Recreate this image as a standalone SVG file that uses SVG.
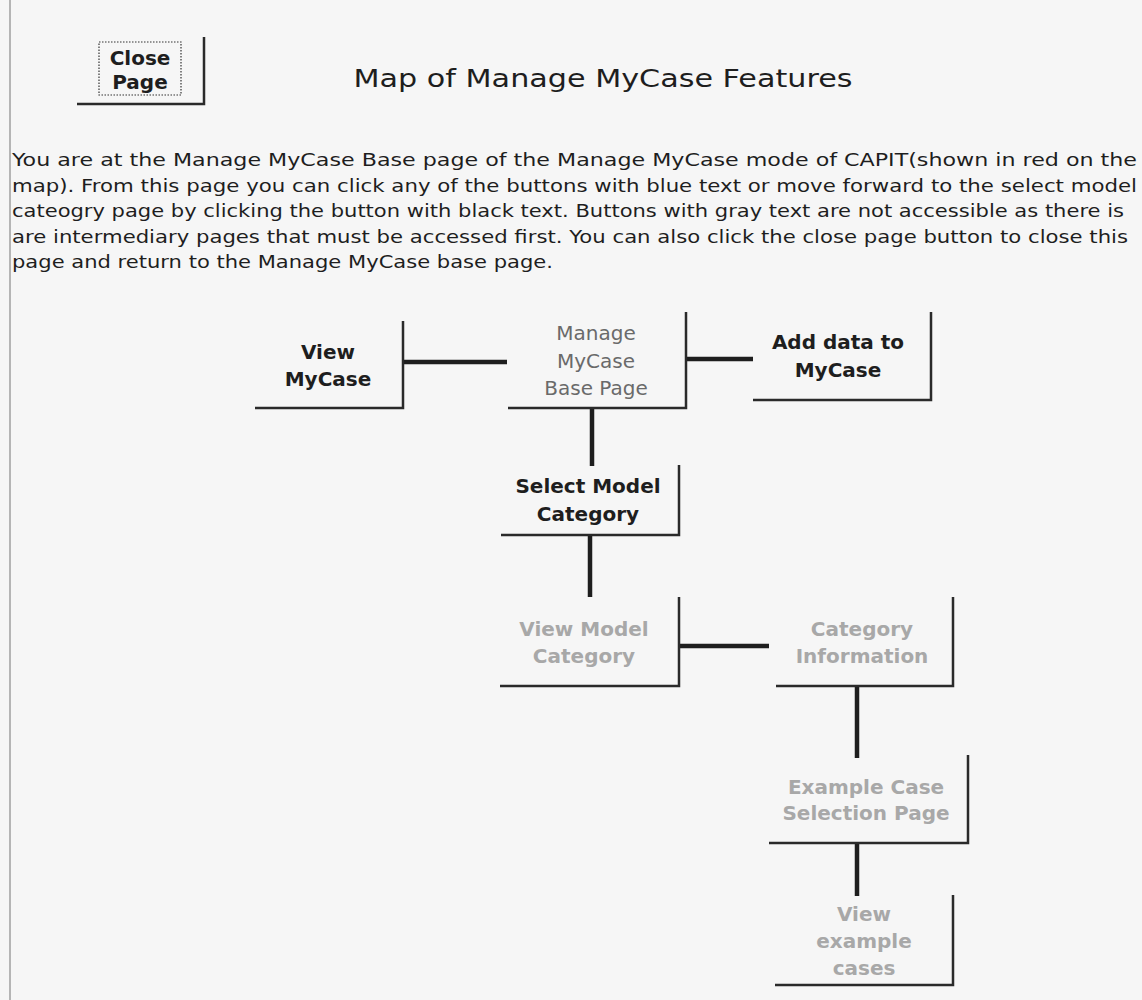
<svg xmlns="http://www.w3.org/2000/svg" width="1142" height="1000" viewBox="0 0 1142 1000">
<style>
.bg{fill:#f6f6f6}
.edge{fill:none;stroke:#2a2a2a;stroke-width:2.5}
.conn line{stroke:#1e1e1e;stroke-width:4.5;stroke-linecap:butt}
.t{font-family:"DejaVu Sans","Liberation Sans",sans-serif;text-anchor:middle;font-size:20px}
.b{font-weight:bold}
.black{fill:#1e1e1e}
.cur{fill:#6a6a6a}
.gray{fill:#a8a8a8}
.para{font-family:"DejaVu Sans","Liberation Sans",sans-serif;font-size:17px;fill:#1e1e1e}
</style>
<rect class="bg" x="0" y="0" width="1142" height="1000"/>
<line x1="10" y1="0" x2="10" y2="1000" stroke="#8a8a8a" stroke-width="1.2"/>

<g id="close-page">
  <rect x="99" y="42" width="82" height="53" fill="none" stroke="#333" stroke-width="1.2" stroke-dasharray="1.5,1.5"/>
  <polyline class="edge" points="77,104 204,104 204,37"/>
  <text class="t b black" x="140" y="65" font-size="19">Close</text>
  <text class="t b black" x="140" y="89" font-size="19">Page</text>
</g>

<text id="title" x="603" y="87" font-family="'DejaVu Sans','Liberation Sans',sans-serif" font-size="25" fill="#1e1e1e" text-anchor="middle" textLength="499" lengthAdjust="spacingAndGlyphs">Map of Manage MyCase Features</text>

<g id="description">
  <text class="para" x="12" y="166" textLength="1125" lengthAdjust="spacingAndGlyphs">You are at the Manage MyCase Base  page of the Manage MyCase mode of CAPIT(shown in red on the</text>
  <text class="para" x="12" y="192" textLength="1125" lengthAdjust="spacingAndGlyphs">map). From this page you can click any of the buttons with blue text or move forward to the select model</text>
  <text class="para" x="12" y="217" textLength="1112" lengthAdjust="spacingAndGlyphs">cateogry page by clicking the button with black text. Buttons with gray text are not accessible as there is</text>
  <text class="para" x="12" y="243" textLength="1116" lengthAdjust="spacingAndGlyphs">are intermediary pages that must be accessed first. You can also click the close page button to close this</text>
  <text class="para" x="12" y="268" textLength="541" lengthAdjust="spacingAndGlyphs">page and return to the Manage MyCase base page.</text>
</g>

<g id="connectors" class="conn">
  <line x1="403" y1="362" x2="507" y2="362"/>
  <line x1="686" y1="359" x2="753" y2="359"/>
  <line x1="592" y1="408" x2="592" y2="466"/>
  <line x1="590" y1="535" x2="590" y2="597"/>
  <line x1="679" y1="646" x2="769" y2="646"/>
  <line x1="857" y1="686" x2="857" y2="758"/>
  <line x1="857" y1="843" x2="857" y2="896"/>
</g>

<g id="view-mycase">
  <polyline class="edge" points="255,408 403,408 403,321"/>
  <text class="t b black" x="328" y="359">View</text>
  <text class="t b black" x="328" y="386">MyCase</text>
</g>

<g id="manage-base">
  <polyline class="edge" points="508,408 686,408 686,312"/>
  <text class="t cur" x="596" y="340" font-size="21">Manage</text>
  <text class="t cur" x="596" y="368" font-size="21">MyCase</text>
  <text class="t cur" x="596" y="395" font-size="21">Base Page</text>
</g>

<g id="add-data">
  <polyline class="edge" points="753,400 931,400 931,312"/>
  <text class="t b black" x="838" y="349" fill="#2a2a2a">Add data to</text>
  <text class="t b black" x="838" y="377" fill="#2a2a2a">MyCase</text>
</g>

<g id="select-model">
  <polyline class="edge" points="501,535 679,535 679,465"/>
  <text class="t b black" x="588" y="493">Select Model</text>
  <text class="t b black" x="588" y="521">Category</text>
</g>

<g id="view-model-category">
  <polyline class="edge" points="500,686 679,686 679,597"/>
  <text class="t b gray" x="584" y="636">View Model</text>
  <text class="t b gray" x="584" y="663">Category</text>
</g>

<g id="category-information">
  <polyline class="edge" points="776,686 953,686 953,597"/>
  <text class="t b gray" x="862" y="636">Category</text>
  <text class="t b gray" x="862" y="663">Information</text>
</g>

<g id="example-case-selection">
  <polyline class="edge" points="769,843 968,843 968,755"/>
  <text class="t b gray" x="866" y="794">Example Case</text>
  <text class="t b gray" x="866" y="820">Selection Page</text>
</g>

<g id="view-example-cases">
  <polyline class="edge" points="775,985 953,985 953,895"/>
  <text class="t b gray" x="864" y="921">View</text>
  <text class="t b gray" x="864" y="948">example</text>
  <text class="t b gray" x="864" y="975">cases</text>
</g>
</svg>
